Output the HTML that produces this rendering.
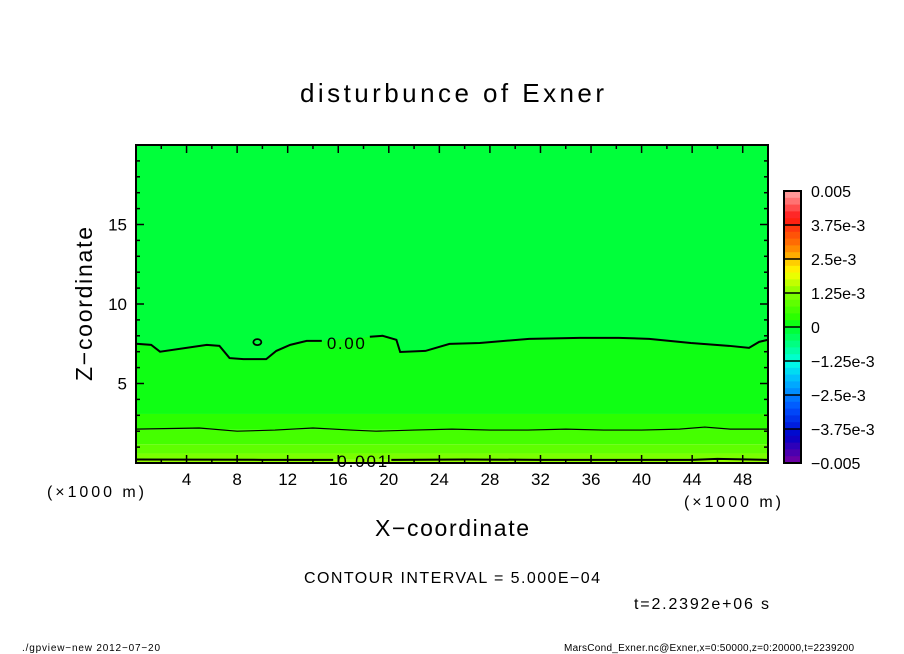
<!DOCTYPE html>
<html><head><meta charset="utf-8"><style>
html,body{margin:0;padding:0;background:#fff;}
svg{display:block;font-family:"Liberation Sans",sans-serif;}
</style></head><body>
<svg id="chart" width="904" height="654" viewBox="0 0 904 654" xmlns="http://www.w3.org/2000/svg">
<text x="300" y="102" font-size="26" textLength="304" lengthAdjust="spacing">disturbunce of Exner</text>
<g id="plot"></g>
<g id="axes"></g>
<g id="cbar"></g>
<text x="47" y="497" font-size="16" textLength="97" lengthAdjust="spacing">(×1000 m)</text>
<text x="684" y="507" font-size="16" textLength="97" lengthAdjust="spacing">(×1000 m)</text>
<text x="375" y="536" font-size="23" textLength="154" lengthAdjust="spacing">X−coordinate</text>
<text transform="translate(92,381) rotate(-90)" font-size="23" textLength="154" lengthAdjust="spacing">Z−coordinate</text>
<text x="304" y="583" font-size="16" textLength="296" lengthAdjust="spacing">CONTOUR INTERVAL = 5.000E−04</text>
<text x="634" y="609" font-size="16" textLength="135" lengthAdjust="spacing">t=2.2392e+06 s</text>
<text x="22" y="651" font-size="10" textLength="138" lengthAdjust="spacing">./gpview−new  2012−07−20</text>
<text x="564" y="651" font-size="10" textLength="290" lengthAdjust="spacing">MarsCond_Exner.nc@Exner,x=0:50000,z=0:20000,t=2239200</text>
</svg>
<script>
const xTicks=[4,8,12,16,20,24,28,32,36,40,44,48];
const zTicks=[5,10,15];
const cbLevels=[0.005,3.75e-3,2.5e-3,1.25e-3,0,-1.25e-3,-2.5e-3,-3.75e-3,-0.005];
const cbLabels=["0.005","3.75e-3","2.5e-3","1.25e-3","0","−1.25e-3","−2.5e-3","−3.75e-3","−0.005"];
const zeroX=[0,1.2,1.9,5.6,6.6,7.4,8.5,10.3,11.1,12.2,13.5,14.7];
const zeroZ=[7.5,7.43,7.0,7.43,7.37,6.6,6.53,6.53,7.05,7.43,7.68,7.68];
const zeroX2=[18.5,19.5,20.6,20.9,22.9,24.8,27.2,31.1,35.1,38.2,40.6,43.9,46.9,48.5,49.3,50];
const zeroZ2=[7.94,8.0,7.75,6.98,7.05,7.49,7.55,7.81,7.87,7.87,7.81,7.55,7.37,7.24,7.62,7.75];
const c05X=[0,5,8,11,14,17,19,22,25,28,31,34,37,40,43,45,47,50];
const c05Z=[2.13,2.2,2.0,2.07,2.2,2.07,2.0,2.07,2.13,2.07,2.07,2.13,2.07,2.07,2.13,2.26,2.13,2.13];
const c10X=[0,10,15.6,20.2,26,32,38,44,46,50];
const c10Z=[0.22,0.2,0.2,0.2,0.22,0.2,0.2,0.2,0.26,0.2];
const bandTops=[20,7.6,3.09,2.1,1.18,0.6,0.2];
const bandVals=[-0.000125,0.000125,0.000375,0.000625,0.000875,0.001125,0.001375];
const NS="http://www.w3.org/2000/svg";
const X0=136,X1=768,Y0=463,Y1=145;
const xs=v=>X0+(v/50)*(X1-X0), zs=v=>Y0-(v/20)*(Y0-Y1);
function el(t,a,p){const e=document.createElementNS(NS,t);for(const k in a)e.setAttribute(k,a[k]);p.appendChild(e);return e;}
function color(v){
 const stops=[[-0.005,[120,0,160]],[-0.004,[0,0,200]],[-0.003,[0,80,255]],[-0.002,[0,180,255]],[-0.0013,[0,255,230]],[-0.0005,[0,255,110]],[0,[0,255,40]],[0.00025,[30,255,0]],[0.0013,[140,255,0]],[0.002,[255,255,0]],[0.0025,[255,190,0]],[0.003,[255,120,0]],[0.004,[255,20,20]],[0.005,[255,170,170]]];
 for(let i=0;i<stops.length-1;i++){const[a,ca]=stops[i],[b,cb]=stops[i+1];if(v<=b){const t=Math.max(0,(v-a)/(b-a));return 'rgb('+ca.map((c,j)=>Math.round(c+(cb[j]-c)*t)).join(',')+')';}}
 return 'rgb(255,170,170)';
}
const plot=document.getElementById('plot');
for(let i=0;i<bandTops.length;i++){
 const top=bandTops[i],bot=i+1<bandTops.length?bandTops[i+1]:0;
 const r=el('rect',{x:X0,y:zs(top),width:X1-X0,height:zs(bot)-zs(top),fill:color(bandVals[i])},plot);
 
 
}
function line(xa,za,w,name){
 const p=el('polyline',{points:xa.map((x,i)=>xs(x)+','+zs(za[i])).join(' '),fill:'none',stroke:'#000','stroke-width':w},plot);
 
 
}
const allX=zeroX.concat(zeroX2), allZ=zeroZ.concat(zeroZ2);
const pts=[xs(0)+','+zs(20)].concat(allX.map((x,i)=>xs(x)+','+zs(allZ[i]))).concat([xs(50)+','+zs(20)]);
const neg=el('polygon',{points:pts.join(' '),fill:color(bandVals[0])},plot);


const pos=el('polygon',{points:[xs(0)+','+zs(3.09)].concat(allX.map((x,i)=>xs(x)+','+zs(allZ[i]))).concat([xs(50)+','+zs(3.09)]).join(' '),fill:color(bandVals[1])},plot);


line(zeroX,zeroZ,2,'contour-zero-a');
line(zeroX2,zeroZ2,2,'contour-zero-b');
line(c05X,c05Z,1.2,'contour-0005');
line(c10X.slice(0,3),c10Z.slice(0,3),2,'contour-0001-a');
line(c10X.slice(3),c10Z.slice(3),2,'contour-0001-b');
const circ=el('ellipse',{cx:xs(9.6),cy:zs(7.6),rx:4,ry:3,fill:'none',stroke:'#000','stroke-width':1.8},plot);


const l0=el('text',{x:xs(16.6),y:zs(7.6)+7,'text-anchor':'middle','font-size':17,textLength:38,lengthAdjust:'spacing'},plot);l0.textContent='0.00';


const l1=el('text',{x:xs(17.9),y:zs(0.2)+7,'text-anchor':'middle','font-size':17,textLength:50,lengthAdjust:'spacing'},plot);l1.textContent='0.001';


const ax=document.getElementById('axes');
const fr=el('rect',{x:X0,y:Y1,width:X1-X0,height:Y0-Y1,fill:'none',stroke:'#000','stroke-width':2},ax);


for(let v=2;v<50;v+=2){const L=v%4===0?8:4;const x=xs(v);
 el('line',{x1:x,y1:Y0,x2:x,y2:Y0-L,stroke:'#000','stroke-width':1.5},ax);
 el('line',{x1:x,y1:Y1,x2:x,y2:Y1+L,stroke:'#000','stroke-width':1.5},ax);}
for(let v=1;v<20;v++){const L=v%5===0?8:4;const y=zs(v);
 el('line',{x1:X0,y1:y,x2:X0+L,y2:y,stroke:'#000','stroke-width':1.5},ax);
 el('line',{x1:X1,y1:y,x2:X1-L,y2:y,stroke:'#000','stroke-width':1.5},ax);}
xTicks.forEach(v=>{const t=el('text',{x:xs(v),y:485,'text-anchor':'middle','font-size':17},ax);t.textContent=v;
 
 });
zTicks.forEach(v=>{const t=el('text',{x:127,y:zs(v)+6,'text-anchor':'end','font-size':17},ax);t.textContent=v;
 
 });
const cb=document.getElementById('cbar');
const CX=784,CW=17,CT=191,CB=463,N=40;
const step=(CB-CT)/N;
for(let i=0;i<N;i++){const v=0.005-(i+0.5)*0.00025;
 const r=el('rect',{x:CX,y:CT+i*step,width:CW,height:step+0.5,fill:color(v)},cb);
 
 }
cbLevels.forEach((v,i)=>{const y=CT+(0.005-v)/0.01*(CB-CT);
 el('line',{x1:CX,y1:y,x2:CX+CW,y2:y,stroke:'#000','stroke-width':1.5},cb);
 const t=el('text',{x:811,y:y+6,'font-size':16},cb);t.textContent=cbLabels[i];
 
 });
el('rect',{x:CX,y:CT,width:CW,height:CB-CT,fill:'none',stroke:'#000','stroke-width':2},cb);
</script>
</body></html>
